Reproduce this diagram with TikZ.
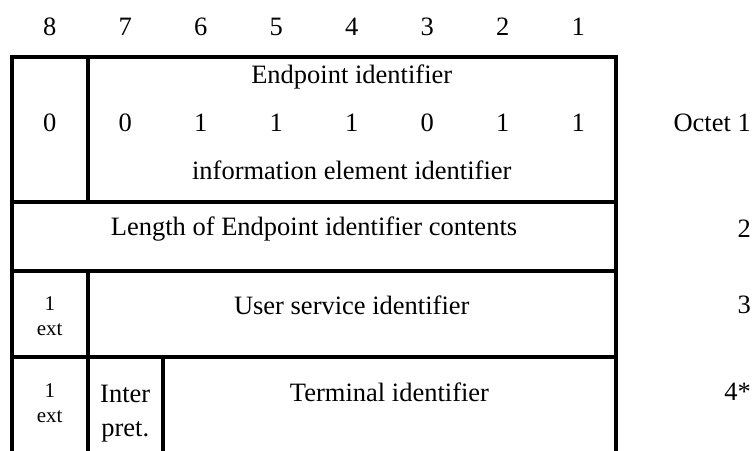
\documentclass[tikz,border=0pt]{standalone}
\usepackage{fontspec}
\setmainfont{Liberation Serif}
\begin{document}
\begin{tikzpicture}[x=1pt,y=-1pt,
  txt/.style={inner sep=0pt,font=\fontsize{26.5}{34}\selectfont},
  small/.style={inner sep=0pt,align=center,font=\fontsize{21}{25}\selectfont},
  grid/.style={line width=4pt}]
\useasboundingbox (0,0) rectangle (755,450);
\def\L{12}\def\W{75.5}
% header numbers
\foreach \i/\b in {0/8,1/7,2/6,3/5,4/4,5/3,6/2,7/1}
  \node[txt] (h\b) at ({\L+\W*(\i+0.5)},27) {\b};
% grid lines
\coordinate (tl) at (\L,57); \coordinate (tr) at (616,57);
\coordinate (bl) at (\L,452); \coordinate (br) at (616,452);
\draw[grid] (bl) -- (tl) -- (tr) -- (br);
\coordinate (r1l) at (\L,202); \coordinate (r1r) at (616,202);
\coordinate (r2l) at (\L,271); \coordinate (r2r) at (616,271);
\coordinate (r3l) at (\L,357); \coordinate (r3r) at (616,357);
\draw[grid] (r1l) -- (r1r);
\draw[grid] (r2l) -- (r2r);
\draw[grid] (r3l) -- (r3r);
\coordinate (v1a) at ({\L+\W},57); \coordinate (v1b) at ({\L+\W},202);
\coordinate (v2a) at ({\L+\W},271); \coordinate (v2b) at ({\L+\W},452);
\coordinate (v3a) at ({\L+2*\W},357); \coordinate (v3b) at ({\L+2*\W},452);
\draw[grid] (v1a) -- (v1b);
\draw[grid] (v2a) -- (v2b);
\draw[grid] (v3a) -- (v3b);
% row 1
\node[txt] (eid) at ({(\L+\W+616)/2},77) {Endpoint identifier};
\foreach \i/\v in {0/0,1/0,2/1,3/1,4/1,5/0,6/1,7/1}
  \node[txt] (b\i) at ({\L+\W*(\i+0.5)},123) {\v};
\node[txt] (iei) at ({(\L+\W+616)/2},170) {information element identifier};
\node[txt,anchor=east] (o1) at (751,123) {Octet 1};
% row 2
\node[txt] (len) at ({(\L+616)/2},229) {Length of Endpoint identifier contents};
\node[txt,anchor=east] (o2) at (751,229) {2};
% row 3
\node[small] (ext3) at ({\L+\W/2},316) {1\\ext};
\node[txt] (usi) at ({(\L+\W+616)/2},305) {User service identifier};
\node[txt,anchor=east] (o3) at (751,305) {3};
% row 4
\node[small] (ext4) at ({\L+\W/2},403) {1\\ext};
\node[txt,align=center] (interp) at ({\L+1.5*\W},414) {Inter\\pret.};
\node[txt] (ti) at ({(\L+2*\W+616)/2},392) {Terminal identifier};
\node[txt,anchor=east] (o4) at (751,392) {4*};
\end{tikzpicture}
\end{document}
